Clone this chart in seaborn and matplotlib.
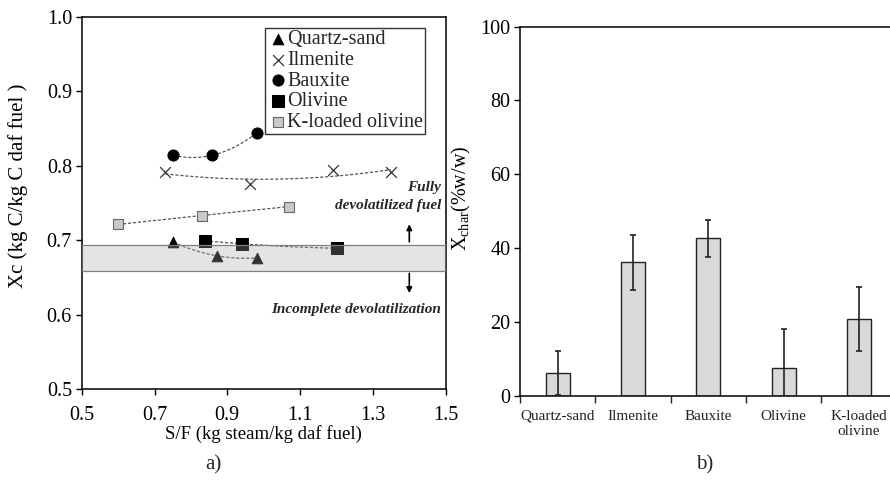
import matplotlib
matplotlib.use("Agg")
import matplotlib.pyplot as plt
import seaborn as sns
import numpy as np
import pandas as pd

sns.set_theme(style="white")
plt.rcParams["font.family"] = ["Liberation Serif", "DejaVu Serif"]
plt.rcParams["mathtext.fontset"] = "custom"
plt.rcParams["mathtext.rm"] = "Liberation Serif"
plt.rcParams["mathtext.it"] = "Liberation Serif:italic"

# ---- panel a) carbon conversion vs steam-to-fuel ratio ----
quartz_sf = [0.752, 0.871, 0.981]
quartz_xc = [0.697, 0.679, 0.676]
ilmenite_sf = [0.730, 0.961, 1.190, 1.349]
ilmenite_xc = [0.791, 0.775, 0.794, 0.791]
bauxite_sf = [0.752, 0.859, 0.981]
bauxite_xc = [0.814, 0.814, 0.844]
olivine_sf = [0.839, 0.940, 1.200]
olivine_xc = [0.699, 0.695, 0.689]
kolivine_sf = [0.600, 0.830, 1.069]
kolivine_xc = [0.721, 0.733, 0.745]
band_low, band_high = 0.659, 0.694

# ---- panel b) char yield per bed material ----
materials = ["Quartz-sand", "Ilmenite", "Bauxite", "Olivine", "K-loaded\nolivine"]
xchar = [6.1, 36.1, 42.6, 7.6, 20.7]
xchar_err = [6.0, 7.5, 5.0, 10.5, 8.7]

fig = plt.figure(figsize=(8.9, 4.8), dpi=100)
axa = fig.add_axes([0.0918, 0.1896, 0.409, 0.7756])
axb = fig.add_axes([0.5843, 0.1756, 0.423, 0.769])

series = [
    ("Quartz-sand", quartz_sf, quartz_xc, dict(marker="^", s=60, color="black", edgecolor="black")),
    ("Ilmenite", ilmenite_sf, ilmenite_xc, dict(marker="x", s=60, color="#333333", linewidth=0.9)),
    ("Bauxite", bauxite_sf, bauxite_xc, dict(marker="o", s=65, color="black", edgecolor="black")),
    ("Olivine", olivine_sf, olivine_xc, dict(marker="s", s=85, color="black", edgecolor="black")),
    ("K-loaded olivine", kolivine_sf, kolivine_xc,
     dict(marker="s", s=55, color="#c9c9c9", edgecolor="#666666", linewidth=0.8)),
]

for name, sf, xc, kw in series:
    sns.regplot(x=np.array(sf), y=np.array(xc), order=2, ci=None, scatter=False, ax=axa,
                line_kws=dict(color="#555555", lw=0.9, ls=(0, (2.5, 1.5))))
    sns.scatterplot(x=sf, y=xc, ax=axa, label=name, zorder=3, **kw)

# shaded band drawn over the markers
axa.axhspan(band_low, band_high, facecolor="#a8a8a8", alpha=0.3, edgecolor="none", zorder=4)
axa.axhline(band_low, color="#808080", lw=0.9, zorder=4)
axa.axhline(band_high, color="#808080", lw=0.9, zorder=4)

axa.annotate("", xy=(1.4, 0.725), xytext=(1.4, band_high),
             arrowprops=dict(arrowstyle="-|>", color="black", lw=1.2, mutation_scale=8))
axa.annotate("", xy=(1.4, 0.625), xytext=(1.4, band_low),
             arrowprops=dict(arrowstyle="-|>", color="black", lw=1.2, mutation_scale=8))
note_kw = dict(ha="right", va="center", fontsize=11, fontweight="bold", fontstyle="italic")
axa.text(1.487, 0.770, "Fully", **note_kw)
axa.text(1.487, 0.746, "devolatilized fuel", **note_kw)
axa.text(1.487, 0.607, "Incomplete devolatilization", **note_kw)

axa.set_xlim(0.5, 1.5)
axa.set_ylim(0.5, 1.0)
axa.set_xticks([0.5, 0.7, 0.9, 1.1, 1.3, 1.5])
axa.set_xticklabels(["0.5", "0.7", "0.9", "1.1", "1.3", "1.5"])
axa.set_yticks([0.5, 0.6, 0.7, 0.8, 0.9, 1.0])
axa.set_yticklabels(["0.5", "0.6", "0.7", "0.8", "0.9", "1.0"])
axa.tick_params(direction="out", length=4, width=1, labelsize=14.5, colors="black",
                bottom=True, left=True, pad=3)
axa.tick_params(axis="x", pad=8)
for sp in axa.spines.values():
    sp.set_visible(True)
    sp.set_color("black")
    sp.set_linewidth(1.1)
axa.set_xlabel("S/F (kg steam/kg daf fuel)", fontsize=13.5, labelpad=0, color="black")
axa.set_ylabel("Xc (kg C/kg C daf fuel )", fontsize=15, color="black")
axa.yaxis.set_label_coords(-0.147, 0.545)

leg = axa.legend(loc="upper right", bbox_to_anchor=(0.955, 0.98), fontsize=14.5,
                 frameon=True, fancybox=False, edgecolor="black", handletextpad=-0.1,
                 handlelength=1.1, borderpad=0.1, labelspacing=0.08, borderaxespad=0.2)
leg.get_frame().set_linewidth(1.0)

fig.text(0.240, 0.031, "a)", fontsize=15, ha="center", va="center")

# panel b
dfb = pd.DataFrame({"material": materials, "xchar": xchar})
sns.barplot(data=dfb, x="material", y="xchar", ax=axb, width=0.32, color="#d9d9d9",
            edgecolor="#222222", linewidth=1.0, errorbar=None, saturation=1)
axb.errorbar(x=np.arange(len(materials)), y=xchar, yerr=xchar_err, fmt="none",
             ecolor="#222222", elinewidth=1.2, capsize=2.5, capthick=1.2, zorder=5)
axb.set_xlim(-0.5, 4.5)
axb.set_ylim(0, 100)
axb.set_yticks([0, 20, 40, 60, 80, 100])
axb.set_xticks(np.arange(len(materials)))
axb.set_xticklabels(materials, fontsize=11, linespacing=1.2, color="#222222", va="top")
axb.set_xticks(np.arange(-0.5, 4.6, 1.0), minor=True)
axb.tick_params(axis="x", which="major", length=0, pad=10)
axb.tick_params(axis="x", which="minor", direction="out", length=5, width=1, bottom=True)
axb.tick_params(axis="y", direction="out", length=4, width=1, labelsize=14.5, left=True,
                colors="black", pad=3)
for sp in axb.spines.values():
    sp.set_visible(True)
    sp.set_color("black")
    sp.set_linewidth(1.1)
axb.set_xlabel("")
axb.set_ylabel(r"X$_\mathrm{char}$(%w/w)", fontsize=14.5, color="black")
axb.yaxis.set_label_coords(-0.125, 0.534)

fig.text(0.792, 0.031, "b)", fontsize=15, ha="center", va="center")

fig.savefig("out.png", dpi=100)
